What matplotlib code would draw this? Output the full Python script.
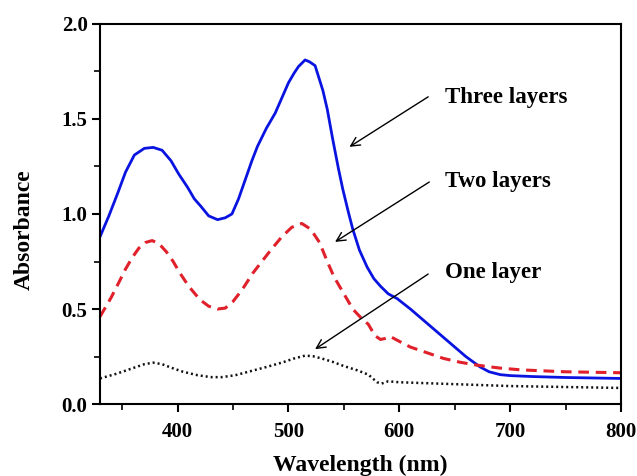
import matplotlib
matplotlib.use("Agg")
import matplotlib.pyplot as plt
from matplotlib.ticker import MultipleLocator

plt.rcParams['font.family'] = ['Liberation Serif', 'DejaVu Serif']
plt.rcParams['font.weight'] = 'bold'

wl_three = [330, 338, 346, 353, 361, 370, 378, 386, 394, 401, 409, 415, 421, 428, 436, 443,
            449, 455, 461, 467, 472, 480, 488, 494, 500, 505, 509, 515, 519, 524, 531, 535,
            540, 545, 549, 554, 558, 564, 571, 577, 583, 590, 598, 610, 620, 630, 646, 660,
            673, 681, 691, 700, 720, 750, 800]
abs_three = [0.88, 0.99, 1.11, 1.22, 1.31, 1.345, 1.35, 1.335, 1.28, 1.21, 1.14, 1.08, 1.04,
             0.99, 0.97, 0.98, 1.00, 1.08, 1.18, 1.28, 1.355, 1.45, 1.53, 1.61, 1.69, 1.74,
             1.775, 1.81, 1.80, 1.78, 1.65, 1.55, 1.39, 1.24, 1.13, 1.01, 0.92, 0.81, 0.72,
             0.66, 0.62, 0.58, 0.555, 0.50, 0.45, 0.40, 0.32, 0.25, 0.195, 0.17, 0.155, 0.15,
             0.145, 0.14, 0.135]

wl_two = [330, 340, 347, 353, 359, 365, 371, 377, 383, 390, 396, 402, 410, 420, 428, 436, 443,
          450, 458, 468, 476, 484, 494, 503, 512, 520, 528, 535, 541, 550, 558, 566, 572, 578,
          583, 587, 592, 600, 610, 625, 640, 655, 670, 690, 710, 750, 800]
abs_two = [0.46, 0.56, 0.64, 0.71, 0.77, 0.82, 0.85, 0.86, 0.845, 0.80, 0.75, 0.69, 0.62, 0.55,
           0.515, 0.50, 0.505, 0.54, 0.60, 0.69, 0.75, 0.81, 0.88, 0.93, 0.95, 0.92, 0.85, 0.75,
           0.67, 0.58, 0.50, 0.45, 0.42, 0.36, 0.34, 0.345, 0.355, 0.33, 0.30, 0.27, 0.24, 0.22,
           0.205, 0.19, 0.18, 0.17, 0.165]

wl_one = [330, 345, 360, 370, 378, 386, 395, 405, 418, 430, 440, 452, 465, 480, 495, 505, 515,
          522, 530, 540, 550, 562, 572, 580, 584, 590, 600, 650, 700, 750, 800]
abs_one = [0.135, 0.16, 0.19, 0.21, 0.218, 0.21, 0.19, 0.17, 0.152, 0.142, 0.142, 0.152, 0.172,
           0.195, 0.22, 0.24, 0.255, 0.252, 0.24, 0.222, 0.20, 0.178, 0.155, 0.115, 0.108, 0.12,
           0.115, 0.105, 0.095, 0.09, 0.085]

labels = ["Three layers", "Two layers", "One layer"]
label_xy = [(641, 1.61), (641, 1.17), (641, 0.69)]
arrow_tail = [(626, 1.616), (627, 1.168), (626, 0.684)]
arrow_head = [(555, 1.353), (542, 0.853), (524, 0.289)]

fig = plt.figure(figsize=(6.37, 4.76), dpi=100)
ax = fig.add_axes([0.157, 0.151, 0.818, 0.799])

ax.plot(wl_three, abs_three, color='#0a14e0', lw=2.0)
ax.plot(wl_two, abs_two, color='#e0202a', lw=2.2, linestyle=(0, (3.5, 2.2)))
ax.plot(wl_one, abs_one, color='#111111', lw=1.8, linestyle=(0, (0.8, 1.2)))

for lab, (tx, ty), (ax0, ay0), (hx, hy) in zip(labels, label_xy, arrow_tail, arrow_head):
    ax.text(tx, ty, lab, fontsize=16.5, fontweight='bold', va='center', ha='left')
    ax.annotate('', xy=(hx, hy), xytext=(ax0, ay0),
                arrowprops=dict(arrowstyle='->', color='black', lw=1.0,
                                mutation_scale=16, shrinkA=0, shrinkB=0))

ax.set_xlim(330, 800)
ax.set_ylim(0, 2.0)
ax.xaxis.set_major_locator(MultipleLocator(100))
ax.xaxis.set_minor_locator(MultipleLocator(50))
ax.yaxis.set_major_locator(MultipleLocator(0.5))
ax.yaxis.set_minor_locator(MultipleLocator(0.25))
ax.tick_params(which='major', direction='out', length=6, width=1.5, labelsize=15)
ax.tick_params(which='minor', direction='out', length=4, width=1.2)
ax.tick_params(axis='x', which='major', pad=7)
ax.tick_params(axis='y', which='major', pad=3)
for s in ax.spines.values():
    s.set_linewidth(1.5)
for lbl in ax.get_xticklabels() + ax.get_yticklabels():
    lbl.set_fontweight('bold')

ax.set_xlabel('Wavelength (nm)', fontsize=17, fontweight='bold')
ax.set_ylabel('Absorbance', fontsize=17, fontweight='bold')
ax.xaxis.label.set_va('baseline')
ax.yaxis.label.set_va('center')
ax.xaxis.set_label_coords(0.5, -0.176)
ax.yaxis.set_label_coords(-0.146, 0.458)

fig.savefig('out.png', dpi=100)
